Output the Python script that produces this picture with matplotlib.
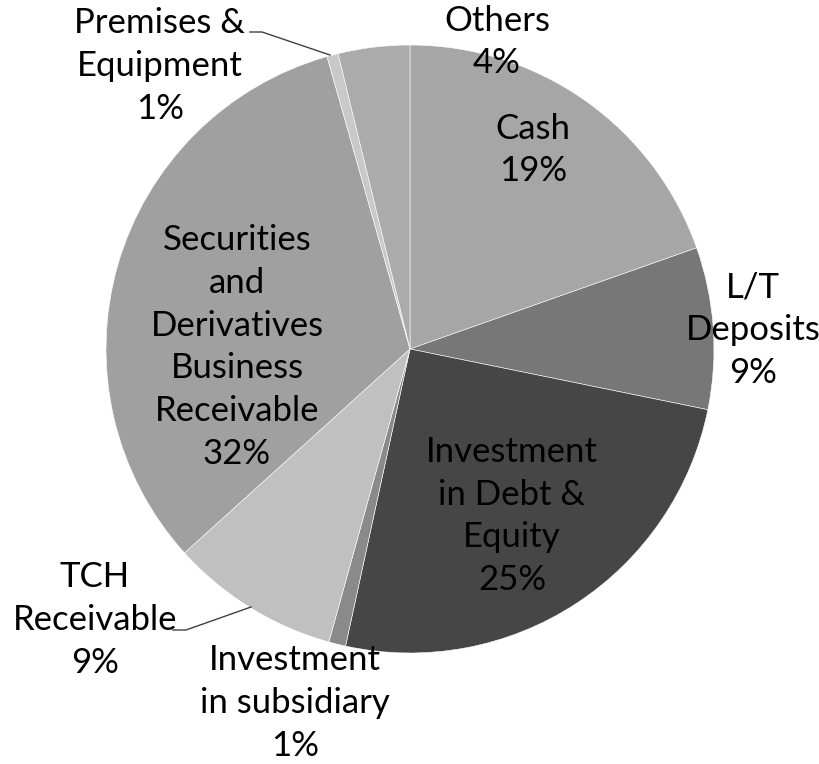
import matplotlib
matplotlib.use("Agg")
import matplotlib.pyplot as plt

categories = ["Cash", "L/T Deposits", "Investment in Debt & Equity",
              "Investment in subsidiary", "TCH Receivable",
              "Securities and Derivatives Business Receivable",
              "Premises & Equipment", "Others"]
values = [19.6, 8.6, 25.2, 0.9, 9.0, 32.3, 0.6, 3.8]
pct_labels = ["19%", "9%", "25%", "1%", "9%", "32%", "1%", "4%"]
label_text = ["Cash", "L/T\nDeposits", "Investment\nin Debt &\nEquity",
              "Investment\nin subsidiary", "TCH\nReceivable",
              "Securities\nand\nDerivatives\nBusiness\nReceivable",
              "Premises &\nEquipment", "Others"]

colors = ["#A6A6A6", "#777777", "#464646", "#8A8A8A", "#C0C0C0",
          "#A0A0A0", "#C9C9C9", "#ABABAB"]

W, H = 820, 764
# label block centers in pixel coordinates (layout)
label_pos = [(533, 150), (753, 330), (512, 516), (295, 703), (95, 620),
             (237, 347), (160, 66), (497, 42)]

plt.rcParams['font.family'] = ['Lato', 'DejaVu Sans']
fig = plt.figure(figsize=(W / 100, H / 100), dpi=100)
ax = fig.add_axes([0, 0, 1, 1])
cx, cy, R = 410, 349, 304
ax.pie(values, colors=colors, startangle=90, counterclock=False,
       center=(cx, H - cy), radius=R,
       wedgeprops=dict(edgecolor="white", linewidth=0.4))
ax.set_xlim(0, W)
ax.set_ylim(0, H)
ax.set_aspect('equal', adjustable='box')
ax.axis('off')

for txt, pct, (x, y) in zip(label_text, pct_labels, label_pos):
    ax.text(x, H - y, txt + "\n" + pct, ha="center", va="center",
            fontsize=25, color="black", linespacing=1.42)

# leader lines
ax.plot([250, 262, 330], [H - 32, H - 32, H - 55], color="#404040", lw=1)
ax.plot([173, 186, 251], [H - 630, H - 630, H - 607], color="#404040", lw=1)

fig.savefig("out.png", dpi=100)
